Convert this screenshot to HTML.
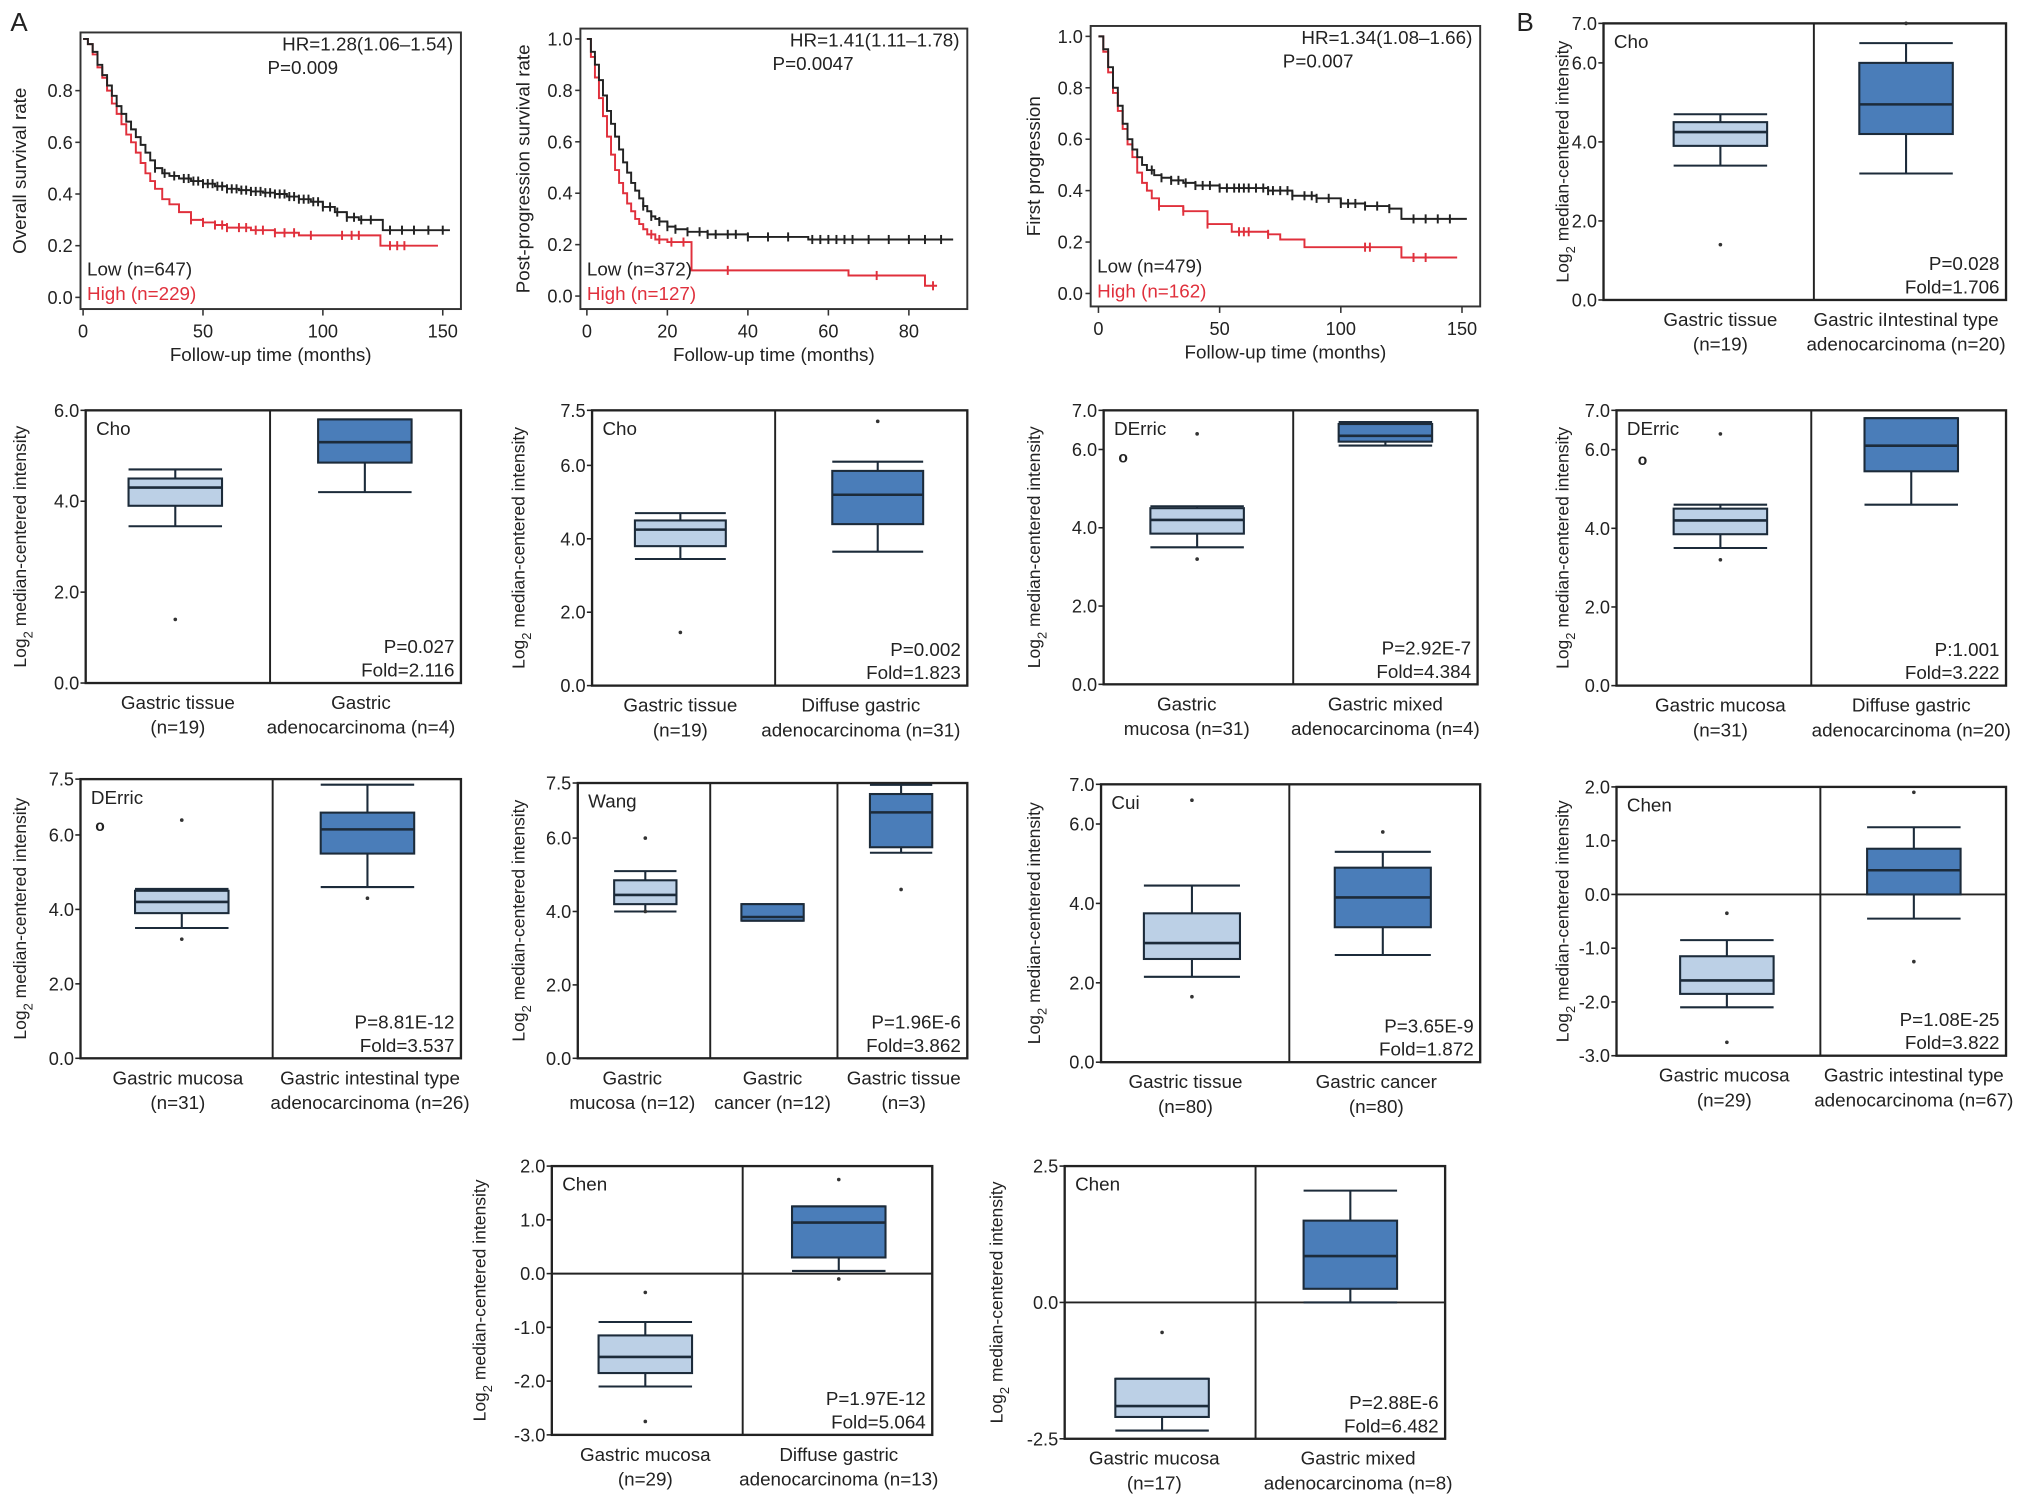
<!DOCTYPE html>
<html><head><meta charset="utf-8"><style>
html,body{margin:0;padding:0;background:#fff;}
svg{display:block;}
text{font-family:"Liberation Sans",Arial,sans-serif;fill:#222;}
</style></head><body>
<svg id="fig" width="2032" height="1505" viewBox="0 0 1565 1159" preserveAspectRatio="none" xmlns="http://www.w3.org/2000/svg"></svg>
<script>
// ---------- KM data (time in months, survival) ----------
const a1LowT=[0,2,4,6,8,10,12,14,16,18,20,22,24,26,28,30,33,36,40,45,50,55,60,65,70,75,80,85,90,95,100,105,110,115,120,125,153];
const a1LowS=[1,.98,.95,.9,.86,.82,.78,.74,.71,.68,.65,.62,.59,.56,.53,.5,.48,.47,.46,.45,.44,.43,.42,.415,.41,.405,.40,.39,.38,.37,.35,.33,.31,.30,.30,.26,.26];
const a1HighT=[0,2,4,6,8,10,12,14,16,18,20,22,24,26,28,30,33,36,40,45,50,55,60,70,80,90,123,124,148];
const a1HighS=[1,.98,.94,.89,.85,.8,.75,.71,.67,.63,.6,.56,.52,.48,.45,.42,.38,.36,.33,.30,.29,.28,.27,.26,.25,.24,.24,.2,.2];
const a1LowCens=[30,34,38,42,44,46,48,50,52,54,56,58,60,62,64,66,68,70,72,74,76,78,80,82,84,86,88,90,92,94,96,98,100,103,106,110,113,116,120,128,133,138,144,150];
const a1HighCens=[45,50,55,58,60,65,68,72,75,80,84,88,95,108,112,115,128,131,134];
const a2LowT=[0,1,2,3,4,5,6,7,8,9,10,11,12,13,14,15,16,17,18,20,22,25,30,40,55,91];
const a2LowS=[1,.95,.9,.84,.78,.72,.67,.62,.57,.52,.48,.44,.41,.38,.35,.33,.31,.30,.29,.27,.26,.25,.24,.23,.22,.22];
const a2HighT=[0,1,2,3,4,5,6,7,8,9,10,11,12,13,14,15,17,20,26,65,84,87];
const a2HighS=[1,.93,.85,.77,.7,.62,.55,.49,.44,.40,.36,.33,.30,.28,.26,.24,.22,.21,.10,.08,.04,.04];
const a2LowCens=[14,16,18,20,22,25,28,30,32,35,37,40,45,50,56,58,60,62,64,66,70,75,80,84,88];
const a2HighCens=[16,18,21,24,35,72,86];
const a3LowT=[0,2,4,6,8,10,12,14,16,18,20,23,26,30,35,40,50,60,70,80,90,100,110,120,125,152];
const a3LowS=[1,.95,.88,.8,.73,.66,.6,.56,.53,.5,.48,.46,.45,.44,.43,.42,.41,.41,.40,.38,.37,.35,.34,.33,.29,.29];
const a3HighT=[0,2,4,6,8,10,12,14,16,18,20,22,25,35,45,55,70,75,85,125,148];
const a3HighS=[1,.94,.86,.78,.71,.64,.58,.53,.47,.43,.40,.37,.34,.32,.27,.24,.23,.21,.18,.14,.14];
const a3LowCens=[22,26,30,33,36,40,43,46,50,53,56,58,60,62,65,68,70,72,75,78,80,85,88,90,95,100,103,106,110,115,120,130,135,140,145];
const a3HighCens=[25,35,45,58,60,62,70,110,112,130,135];

// ---------- Box plot stats [low whisker, q1, median, q3, high whisker] ----------
const b1Stats=[[3.4,3.9,4.25,4.5,4.7],[3.2,4.2,4.95,6.0,6.5]];
const b1Out=[[1.4],[7.0]];
const c1Stats=[[3.45,3.9,4.3,4.5,4.7],[4.2,4.85,5.3,5.8,5.8]];
const c1Out=[[1.4],[]];
const c2Stats=[[3.45,3.8,4.25,4.5,4.7],[3.65,4.4,5.2,5.85,6.1]];
const c2Out=[[1.45],[7.2]];
const c3Stats=[[3.5,3.85,4.2,4.5,4.55],[6.1,6.2,6.35,6.65,6.7]];
const c3Out=[[3.2,6.4],[]];
const c4Stats=[[3.5,3.85,4.2,4.5,4.6],[4.6,5.45,6.1,6.8,6.8]];
const c4Out=[[3.2,6.4],[]];
const d1Stats=[[3.5,3.9,4.2,4.5,4.55],[4.6,5.5,6.15,6.6,7.35]];
const d1Out=[[3.2,6.4],[4.3]];
const d2Stats=[[4.0,4.2,4.45,4.85,5.1],[3.75,3.75,3.85,4.2,4.2],[5.6,5.75,6.7,7.2,7.45]];
const d2Out=[[6.0,4.0],[],[4.6]];
const d3Stats=[[2.15,2.6,3.0,3.75,4.45],[2.7,3.4,4.15,4.9,5.3]];
const d3Out=[[1.65,6.6],[5.8]];
const d4Stats=[[-2.1,-1.85,-1.6,-1.15,-0.85],[-0.45,0.0,0.45,0.85,1.25]];
const d4Out=[[-0.35,-2.75],[1.9,-1.25]];
const e1Stats=[[-2.1,-1.85,-1.55,-1.15,-0.9],[0.05,0.3,0.95,1.25,1.25]];
const e1Out=[[-0.35,-2.75],[1.75,-0.1]];
const e2Stats=[[-2.35,-2.1,-1.9,-1.4,-1.4],[0.0,0.25,0.85,1.5,2.05]];
const e2Out=[[-0.55],[]];

const NS="http://www.w3.org/2000/svg";
const svg=document.getElementById('fig');
function mk(tag,attrs,parent){const e=document.createElementNS(NS,tag);for(const k in attrs)e.setAttribute(k,attrs[k]);(parent||svg).appendChild(e);return e;}
function txt(s,x,y,size,anchor,parent,fill){const t=mk('text',{x:x,y:y,'font-size':size,'text-anchor':anchor||'start'},parent);if(fill)t.setAttribute('style','fill:'+fill);t.textContent=s;return t;}

let el;
el=txt('A',8,24,20);


el=txt('B',1168,24,20);



function kmPanel(c,lowT,lowS,highT,highS,lowC,highC,name){
  const g=mk('g',{});
  
  
  const X=t=>c.px0+(t-0)*(c.px1-c.px0)/c.tmax;
  const Y=s=>c.py0-s*(c.py0-c.py1);
  const fr=mk('rect',{x:c.x0,y:c.y0,width:c.x1-c.x0,height:c.y1-c.y0,fill:'none',stroke:'#333','stroke-width':1.5},g);
  
  
  c.yt.forEach(v=>{mk('line',{x1:c.x0-4,x2:c.x0,y1:Y(v),y2:Y(v),stroke:'#333','stroke-width':1.2},g);
    const t=txt(v.toFixed(1),c.x0-6,Y(v)+5,14,'end',g);
    
    });
  c.xt.forEach(v=>{mk('line',{x1:X(v),x2:X(v),y1:c.y1,y2:c.y1+5,stroke:'#333','stroke-width':1.2},g);
    const t=txt(String(v),X(v),c.y1+22,14,'middle',g);
    
    });
  const xl=txt('Follow-up time (months)',(c.x0+c.x1)/2,c.y1+40,14.5,'middle',g);
  
  
  const yl=txt(c.ylab,0,0,14.5,'middle',g);
  yl.setAttribute('transform','translate('+c.ylx+','+((c.y0+c.y1)/2)+') rotate(-90)');
  
  
  function curve(T,S,col,cens,nm){
    let d='M'+X(T[0])+','+Y(S[0]);
    for(let i=1;i<T.length;i++){d+=' H'+X(T[i])+' V'+Y(S[i]);}
    const p=mk('path',{d:d,fill:'none',stroke:col,'stroke-width':1.5},g);
    
    
    cens.forEach(t=>{let s=S[0];for(let i=0;i<T.length;i++){if(T[i]<=t)s=S[i];}
      mk('line',{x1:X(t),x2:X(t),y1:Y(s)-3.5,y2:Y(s)+3.5,stroke:col,'stroke-width':1.5},g);});
  }
  curve(highT,highS,'#e0303c',highC,'high-curve');
  curve(lowT,lowS,'#222',lowC,'low-curve');
  const h=txt(c.hr,c.x1-6,c.y0+14,14.5,'end',g);
  
  
  const pp=txt(c.p,c.hx,c.y0+32,14.5,'start',g);
  
  
  const lo=txt(c.low,c.x0+5,c.y1-26,14.5,'start',g);
  
  
  const hi=txt(c.high,c.x0+5,c.y1-7,14.5,'start',g,'#e0303c');
  
  
}

kmPanel({x0:62,x1:355,y0:25,y1:238,px0:64,px1:341,tmax:150,py0:229,py1:30,yt:[0,0.2,0.4,0.6,0.8],xt:[0,50,100,150],ylab:'Overall survival rate',ylx:20,hr:'HR=1.28(1.06–1.54)',hx:206,p:'P=0.009',low:'Low (n=647)',high:'High (n=229)'},a1LowT,a1LowS,a1HighT,a1HighS,a1LowCens,a1HighCens,'km-overall-survival');
kmPanel({x0:447,x1:745,y0:22,y1:238,px0:452,px1:700,tmax:80,py0:228,py1:30,yt:[0,0.2,0.4,0.6,0.8,1.0],xt:[0,20,40,60,80],ylab:'Post-progression survival rate',ylx:408,hr:'HR=1.41(1.11–1.78)',hx:595,p:'P=0.0047',low:'Low (n=372)',high:'High (n=127)'},a2LowT,a2LowS,a2HighT,a2HighS,a2LowCens,a2HighCens,'km-post-progression');
kmPanel({x0:840,x1:1140,y0:20,y1:236,px0:846,px1:1126,tmax:150,py0:226,py1:28,yt:[0,0.2,0.4,0.6,0.8,1.0],xt:[0,50,100,150],ylab:'First progression',ylx:801,hr:'HR=1.34(1.08–1.66)',hx:988,p:'P=0.007',low:'Low (n=479)',high:'High (n=162)'},a3LowT,a3LowS,a3HighT,a3HighS,a3LowCens,a3HighCens,'km-first-progression');

function boxPanel(c,stats,outs,name){
  const g=mk('g',{});
  
  
  const Y=v=>c.y1-(v-c.vmin)/(c.vmax-c.vmin)*(c.y1-c.y0);
  const fr=mk('rect',{x:c.x0,y:c.y0,width:c.x1-c.x0,height:c.y1-c.y0,fill:'none',stroke:'#222','stroke-width':1.8},g);
  
  
  c.divs.forEach(d=>{const l=mk('line',{x1:d,x2:d,y1:c.y0,y2:c.y1,stroke:'#222','stroke-width':1.5},g);
    
    });
  if(c.zero){const z=mk('line',{x1:c.x0,x2:c.x1,y1:Y(0),y2:Y(0),stroke:'#222','stroke-width':1.5},g);
    
    }
  c.ticks.forEach(v=>{mk('line',{x1:c.x0-4,x2:c.x0,y1:Y(v),y2:Y(v),stroke:'#222','stroke-width':1.2},g);
    const t=txt(v.toFixed(1),c.x0-5,Y(v)+5,14,'end',g);
    
    });
  const yl=mk('text',{'font-size':13.5,'text-anchor':'middle',transform:'translate('+c.ylx+','+((c.y0+c.y1)/2)+') rotate(-90)'},g);
  yl.innerHTML='Log<tspan font-size="10" dy="5">2</tspan><tspan dy="-5"> median-centered intensity</tspan>';
  
  
  const ti=txt(c.title,c.x0+8,c.y0+19,14.5,'start',g);
  
  
  (c.os||[]).forEach(o=>{const oo=txt('o',o[0],o[1],12,'middle',g);oo.setAttribute('font-weight','bold');
    
    });
  stats.forEach((s,i)=>{
    const cx=c.centers[i],hw=c.hw,col=c.colors[i];
    const bg=mk('g',{},g);
    
    
    const st={stroke:'#1c2b3a','stroke-width':1.6};
    mk('line',Object.assign({x1:cx,x2:cx,y1:Y(s[0]),y2:Y(s[4])},st),bg);
    mk('line',Object.assign({x1:cx-hw,x2:cx+hw,y1:Y(s[0]),y2:Y(s[0])},st),bg);
    mk('line',Object.assign({x1:cx-hw,x2:cx+hw,y1:Y(s[4]),y2:Y(s[4])},st),bg);
    mk('rect',Object.assign({x:cx-hw,y:Y(s[3]),width:2*hw,height:Math.max(1,Y(s[1])-Y(s[3])),fill:col},st),bg);
    mk('line',{x1:cx-hw,x2:cx+hw,y1:Y(s[2]),y2:Y(s[2]),stroke:'#1c2b3a','stroke-width':2},bg);
    outs[i].forEach(v=>{mk('circle',{cx:cx,cy:Y(v),r:1.4,fill:'#333'},bg);});
    c.labels[i].forEach((l,j)=>{const t=txt(l,cx+(c.lo?c.lo[i]:0),c.y1+20+j*19,14.5,'middle',g);
      
      });
  });
  const p=txt(c.p,c.x1-5,c.y1-23,14.5,'end',g);
  
  
  const f=txt(c.fold,c.x1-5,c.y1-5,14.5,'end',g);
  
  
}
const L='#bcd0e6',D='#4a7db9';
boxPanel({x0:1235,x1:1545,y0:18,y1:231,vmin:0,vmax:7,ticks:[0,2,4,6,7],divs:[1397],centers:[1325,1468],hw:36,colors:[L,D],ylx:1208,title:'Cho',p:'P=0.028',fold:'Fold=1.706',labels:[['Gastric tissue','(n=19)'],['Gastric iIntestinal type','adenocarcinoma (n=20)']]},b1Stats,b1Out,'box-cho-intestinal');
boxPanel({x0:66,x1:355,y0:316,y1:526,vmin:0,vmax:6,ticks:[0,2,4,6],divs:[208],centers:[135,281],hw:36,colors:[L,D],ylx:20,title:'Cho',p:'P=0.027',fold:'Fold=2.116',labels:[['Gastric tissue','(n=19)'],['Gastric','adenocarcinoma (n=4)']],lo:[2,-3]},c1Stats,c1Out,'box-cho-adenocarcinoma');
boxPanel({x0:456,x1:745,y0:316,y1:528,vmin:0,vmax:7.5,ticks:[0,2,4,6,7.5],divs:[597],centers:[524,676],hw:35,colors:[L,D],ylx:404,title:'Cho',p:'P=0.002',fold:'Fold=1.823',labels:[['Gastric tissue','(n=19)'],['Diffuse gastric','adenocarcinoma (n=31)']],lo:[0,-13]},c2Stats,c2Out,'box-cho-diffuse');
boxPanel({x0:850,x1:1138,y0:316,y1:527,vmin:0,vmax:7,ticks:[0,2,4,6,7],divs:[996],centers:[922,1067],hw:36,colors:[L,D],ylx:801,title:'DErric',p:'P=2.92E-7',fold:'Fold=4.384',os:[[865,356]],labels:[['Gastric','mucosa (n=31)'],['Gastric mixed','adenocarcinoma (n=4)']],lo:[-8,0]},c3Stats,c3Out,'box-derric-mixed');
boxPanel({x0:1245,x1:1545,y0:316,y1:528,vmin:0,vmax:7,ticks:[0,2,4,6,7],divs:[1395],centers:[1325,1472],hw:36,colors:[L,D],ylx:1208,title:'DErric',p:'P:1.001',fold:'Fold=3.222',os:[[1265,358]],labels:[['Gastric mucosa','(n=31)'],['Diffuse gastric','adenocarcinoma (n=20)']]},c4Stats,c4Out,'box-derric-diffuse');
boxPanel({x0:62,x1:355,y0:600,y1:815,vmin:0,vmax:7.5,ticks:[0,2,4,6,7.5],divs:[210],centers:[140,283],hw:36,colors:[L,D],ylx:20,title:'DErric',p:'P=8.81E-12',fold:'Fold=3.537',os:[[77,640]],labels:[['Gastric mucosa','(n=31)'],['Gastric intestinal type','adenocarcinoma (n=26)']],lo:[-3,2]},d1Stats,d1Out,'box-derric-intestinal');
boxPanel({x0:445,x1:745,y0:603,y1:815,vmin:0,vmax:7.5,ticks:[0,2,4,6,7.5],divs:[547,645],centers:[497,595,694],hw:24,colors:[L,D,D],ylx:404,title:'Wang',p:'P=1.96E-6',fold:'Fold=3.862',labels:[['Gastric','mucosa (n=12)'],['Gastric','cancer (n=12)'],['Gastric tissue','(n=3)']],lo:[-10,0,2]},d2Stats,d2Out,'box-wang');
boxPanel({x0:848,x1:1140,y0:604,y1:818,vmin:0,vmax:7,ticks:[0,2,4,6,7],divs:[993],centers:[918,1065],hw:37,colors:[L,D],ylx:801,title:'Cui',p:'P=3.65E-9',fold:'Fold=1.872',labels:[['Gastric tissue','(n=80)'],['Gastric cancer','(n=80)']],lo:[-5,-5]},d3Stats,d3Out,'box-cui');
boxPanel({x0:1245,x1:1545,y0:606,y1:813,vmin:-3,vmax:2,ticks:[-3,-2,-1,0,1,2],divs:[1402],centers:[1330,1474],hw:36,colors:[L,D],ylx:1208,zero:true,title:'Chen',p:'P=1.08E-25',fold:'Fold=3.822',labels:[['Gastric mucosa','(n=29)'],['Gastric intestinal type','adenocarcinoma (n=67)']],lo:[-2,0]},d4Stats,d4Out,'box-chen-intestinal');
boxPanel({x0:425,x1:718,y0:898,y1:1105,vmin:-3,vmax:2,ticks:[-3,-2,-1,0,1,2],divs:[572],centers:[497,646],hw:36,colors:[L,D],ylx:374,zero:true,title:'Chen',p:'P=1.97E-12',fold:'Fold=5.064',labels:[['Gastric mucosa','(n=29)'],['Diffuse gastric','adenocarcinoma (n=13)']]},e1Stats,e1Out,'box-chen-diffuse');
boxPanel({x0:820,x1:1113,y0:898,y1:1108,vmin:-2.5,vmax:2.5,ticks:[-2.5,0,2.5],divs:[967],centers:[895,1040],hw:36,colors:[L,D],ylx:772,zero:true,title:'Chen',p:'P=2.88E-6',fold:'Fold=6.482',labels:[['Gastric mucosa','(n=17)'],['Gastric mixed','adenocarcinoma (n=8)']],lo:[-6,6]},e2Stats,e2Out,'box-chen-mixed');
</script>
</body></html>
